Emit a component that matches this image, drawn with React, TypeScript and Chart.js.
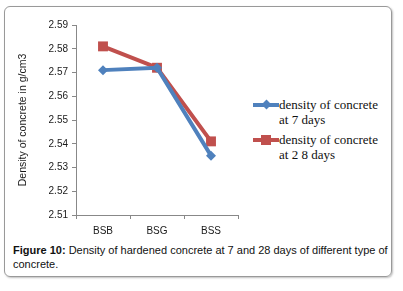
import React, { useEffect, useRef } from "react";
import { Chart, registerables } from "chart.js";

Chart.register(...registerables);

const categories = ["BSB", "BSG", "BSS"];
const density7Days = [2.571, 2.572, 2.535];
const density28Days = [2.581, 2.572, 2.541];
const seriesNames = ["density of concrete at 7 days", "density of concrete at 2 8 days"];
const legendLines = [["density of concrete", "at 7 days"], ["density of concrete", "at 2 8 days"]];
const yAxisTitle = "Density of concrete in g/cm3";
const yMin = 2.51;
const yMax = 2.59;
const yStep = 0.01;

const BLUE = "#4F81BD";
const RED = "#C0504D";

export default function App() {
  const canvasRef = useRef<HTMLCanvasElement | null>(null);

  useEffect(() => {
    if (!canvasRef.current) return;
    const chart = new Chart(canvasRef.current, {
      type: "line",
      data: {
        labels: categories,
        datasets: [
          {
            label: seriesNames[0],
            data: density7Days,
            borderColor: BLUE,
            backgroundColor: BLUE,
            borderWidth: 4,
            pointStyle: "rectRot",
            pointRadius: 5,
            pointBorderWidth: 0,
          },
          {
            label: seriesNames[1],
            data: density28Days,
            borderColor: RED,
            backgroundColor: RED,
            borderWidth: 4,
            pointStyle: "rect",
            pointRadius: 7,
            pointBorderWidth: 0,
          },
        ],
      },
      options: {
        animation: false,
        responsive: false,
        layout: { padding: { top: 25, right: 7, left: 0, bottom: 0 } },
        plugins: { legend: { display: false }, tooltip: { enabled: false } },
        scales: {
          x: {
            type: "category",
            offset: true,
            grid: {
              offset: true,
              drawOnChartArea: false,
              tickLength: 4,
              color: "#888",
            },
            border: { color: "#888", width: 1 },
            ticks: {
              padding: 6,
              color: "#1a1a1a",
              font: { family: "Liberation Sans", size: 10 },
            },
            afterFit: (s: any) => {
              s.height = 25;
            },
          },
          y: {
            min: yMin,
            max: yMax,
            grid: { drawOnChartArea: false, tickLength: 4, color: "#888" },
            border: { color: "#888", width: 1 },
            ticks: {
              stepSize: yStep,
              padding: 4,
              color: "#1a1a1a",
              font: { family: "Liberation Sans", size: 10 },
              callback: (v: any) => Number(v).toFixed(2),
            },
            title: {
              display: true,
              text: yAxisTitle,
              color: "#1a1a1a",
              font: { family: "Liberation Sans", size: 10.5 },
              padding: { top: 17, bottom: 0 },
            },
            afterFit: (s: any) => {
              s.width = 76;
            },
          },
        },
      },
    });
    return () => chart.destroy();
  }, []);

  const legendColors = [BLUE, RED];

  return (
    <div
      style={{
        position: "fixed",
        left: 0,
        top: 0,
        width: 403,
        height: 291,
        background: "#fff",
        overflow: "hidden",
      }}
    >
      <div
        style={{
          position: "absolute",
          left: 4,
          top: 6,
          width: 386,
          height: 269,
          border: "1px solid #999",
          borderRadius: 6,
          boxShadow: "1px 1px 2px rgba(0,0,0,0.25)",
        }}
      />
      <canvas
        ref={canvasRef}
        width={245}
        height={240}
        style={{ position: "absolute", left: 0, top: 0, width: 245, height: 240 }}
      />
      {legendLines.map((lines, i) => (
        <div
          key={i}
          style={{
            position: "absolute",
            left: 253,
            top: 97 + i * 35,
            display: "flex",
            alignItems: "flex-start",
          }}
        >
          <div style={{ position: "relative", width: 26, height: 14 }}>
            <div
              style={{
                position: "absolute",
                left: 0,
                top: 6,
                width: 26,
                height: 4,
                background: legendColors[i],
              }}
            />
            <div
              style={{
                position: "absolute",
                left: i === 0 ? 10 : 8,
                top: i === 0 ? 4 : 3,
                width: i === 0 ? 7 : 10,
                height: i === 0 ? 7 : 10,
                background: legendColors[i],
                transform: i === 0 ? "rotate(45deg)" : "none",
              }}
            />
          </div>
          <div
            style={{
              fontFamily: "Liberation Serif",
              fontSize: 13,
              lineHeight: "15px",
              color: "#111",
              whiteSpace: "nowrap",
            }}
          >
            {lines.map((t, j) => (
              <div key={j}>{t}</div>
            ))}
          </div>
        </div>
      ))}
      <div
        style={{
          position: "absolute",
          left: 13,
          top: 243,
          width: 380,
          fontFamily: "Liberation Sans",
          fontSize: 11,
          lineHeight: "14px",
          color: "#111",
        }}
      >
        <b>Figure 10:</b> Density of hardened concrete at 7 and 28 days of different type of concrete.
      </div>
    </div>
  );
}
